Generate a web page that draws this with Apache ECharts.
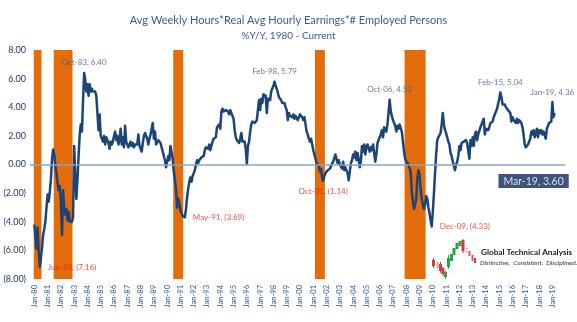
<!DOCTYPE html>
<html>
<head>
<meta charset="utf-8">
<script src="https://cdn.jsdelivr.net/npm/echarts@6/dist/echarts.min.js"></script>
<style>
  html, body { margin: 0; padding: 0; background: #fff; }
  #chart { width: 577px; height: 322px; }
</style>
</head>
<body>
<div id="chart"></div>
<script>
// Avg weekly hours * real avg hourly earnings * employed persons, % y/y, monthly from Jan-80
const FIRST_YEAR = 1980;
const MONTH_NAMES = ['Jan', 'Feb', 'Mar', 'Apr', 'May', 'Jun', 'Jul', 'Aug', 'Sep', 'Oct', 'Nov', 'Dec'];

const yoy1980s = [
  -4.2, -4.3, -5.9, -4.4, -6.1, -7.16, -6.5, -5.8, -4.9, -4.5, -4.0, -3.0,   // 1980
  -2.1, -2.6, -1.9, -1.0, 0.4, 1.05, 0.7, -0.1, -0.6, -1.3, -1.8, -1.5,      // 1981
  -2.6, -4.9, -1.8, -3.0, -3.5, -3.1, -3.9, -3.3, -4.0, -3.9, -4.0, -3.7,    // 1982
  1.3, -0.8, -2.4, -1.0, 0.6, 2.1, 2.8, 2.3, 4.4, 6.40, 5.9, 5.1,            // 1983
  5.6, 4.8, 5.6, 5.1, 5.3, 5.1, 5.0, 5.1, 4.8, 3.6, 2.4, 3.5,                // 1984
  2.0, 2.1, 1.6, 2.0, 1.4, 1.9, 1.8, 1.5, 1.1, 1.6, 1.4, 1.6,                // 1985
  2.0, 2.3, 1.7, 2.0, 1.4, 1.8, 2.5, 1.4, 1.9, 1.2, 2.7, 1.6,                // 1986
  1.5, 1.2, 1.4, 1.6, 1.3, 1.5, 1.2, 1.4, 1.3, 1.4, 2.1, 1.3,                // 1987
  1.1, 0.9, 1.5, 2.0, 2.2, 2.3, 1.8, 1.4, 1.8, 2.1, 2.2, 2.9,                // 1988
  1.8, 2.3, 1.4, 1.5, 1.7, 1.6, 1.5, 1.6, 0.9, 0.6, 0.3, -0.2                // 1989
];
const yoy1990s = [
  -0.3, 0.6, 0.3, 1.3, 1.4, 0.4, -0.5, -1.1, -1.7, -3.0, -2.4, -2.7,         // 1990
  -3.2, -3.4, -3.6, -3.6, -3.69, -3.1, -2.3, -1.7, -1.2, -0.9, -1.2, -0.8,   // 1991
  -0.6, -0.4, 0.0, 0.3, 0.1, 0.3, 0.2, 0.5, 0.4, 0.6, 1.0, 1.2,              // 1992
  1.3, 1.1, 1.4, 1.0, 1.3, 1.6, 1.8, 1.7, 1.9, 2.6, 2.7, 2.8,                // 1993
  2.5, 3.7, 3.9, 3.7, 3.6, 3.8, 3.9, 3.7, 3.5, 3.8, 3.6, 3.4,                // 1994
  3.2, 2.4, 1.9, 1.7, 1.6, 1.5, 1.8, 2.2, 1.6, 1.5, 1.6, 1.1,                // 1995
  0.05, 1.3, 1.6, 2.3, 2.8, 3.0, 2.9, 2.9, 3.0, 3.1, 3.1, 4.5,               // 1996
  3.8, 4.6, 4.3, 4.9, 5.0, 4.8, 3.6, 4.6, 4.7, 4.5, 5.1, 5.2,                // 1997
  5.5, 5.79, 5.5, 5.3, 5.0, 4.7, 4.6, 4.5, 4.3, 4.2, 4.3, 4.0,               // 1998
  3.8, 3.1, 3.6, 3.4, 3.5, 3.3, 3.5, 3.2, 3.4, 3.3, 3.1, 3.0                 // 1999
];
const yoy2000s = [
  3.5, 3.4, 3.3, 3.1, 3.3, 2.8, 2.3, 2.1, 1.8, 1.6, 1.8, 1.4,                // 2000
  1.0, 0.7, 0.4, 0.1, 0.0, -0.1, -0.5, -0.3, -0.9, -1.14, -0.8, -0.6,        // 2001
  -0.7, -0.4, -0.5, -0.3, -0.1, 0.0, 0.2, 0.3, 0.7, 0.6, 0.1, 0.3,           // 2002
  0.0, 0.1, -0.3, 0.2, -0.4, -0.2, -0.3, -0.6, -1.1, -0.5, 0.1, 0.3,         // 2003
  0.7, 0.5, 0.9, 0.3, 0.8, 0.4, -0.2, 0.2, 1.3, 0.9, 1.4, 0.7,               // 2004
  1.2, 1.4, 1.3, 0.9, 1.2, 1.0, 1.4, 0.8, 0.2, 0.7, 1.5, 1.7,                // 2005
  1.6, 2.1, 2.4, 1.9, 2.6, 2.5, 2.3, 2.8, 3.6, 4.53, 3.7, 3.4,               // 2006
  3.1, 2.9, 2.7, 2.3, 2.7, 2.5, 2.8, 2.9, 2.3, 1.6, 0.9, 0.4,                // 2007
  0.2, 0.1, 0.0, -0.1, -0.5, -1.9, -2.6, -3.1, -2.8, -2.4, -1.0, -0.4,       // 2008
  -0.7, -1.7, -2.4, -2.8, -3.1, -2.8, -2.2, -2.4, -3.0, -3.4, -3.9, -4.33    // 2009
];
const yoy2010s = [
  -3.3, -2.0, -0.6, 0.7, 1.7, 1.9, 2.0, 2.2, 2.8, 3.6, 2.8, 2.4,             // 2010
  2.2, 2.3, 1.6, 1.4, 0.8, 0.6, 0.2, 0.1, -0.4, 0.0, 0.2, 0.6,               // 2011
  1.3, 1.0, 1.5, 1.4, 1.6, 1.5, 1.7, 1.5, 1.6, 0.4, 1.7, 1.3,                // 2012
  1.9, 1.3, 2.1, 2.3, 1.7, 2.1, 2.2, 2.6, 2.7, 3.0, 3.2, 2.1,                // 2013
  2.5, 2.6, 2.4, 2.6, 2.9, 2.8, 3.0, 3.3, 3.2, 3.7, 3.9, 4.0,                // 2014
  4.6, 5.04, 4.7, 4.2, 4.1, 4.2, 4.0, 4.1, 3.8, 3.7, 3.6, 3.0,               // 2015
  3.3, 3.1, 3.2, 2.9, 3.2, 2.9, 3.1, 3.0, 2.9, 2.6, 2.1, 1.4,                // 2016
  1.2, 1.1, 1.4, 1.6, 1.8, 2.3, 2.1, 2.4, 1.9, 2.2, 2.5, 1.9,                // 2017
  2.4, 2.2, 2.4, 2.1, 2.3, 2.2, 1.8, 2.5, 2.6, 2.9, 2.8, 3.0,                // 2018
  4.36, 3.3, 3.60                                                            // 2019
];

// Recession periods (first and last month)
const recessions = [
  ['Jan-80', 'Jul-80'],
  ['Jul-81', 'Nov-82'],
  ['Jul-90', 'Mar-91'],
  ['Mar-01', 'Nov-01'],
  ['Dec-07', 'Jun-09']
];
// Annotated turning points
const peakMonths = ['Oct-83', 'Feb-98', 'Oct-06', 'Feb-15', 'Jan-19'];
const troughMonths = ['Jun-80', 'May-91', 'Dec-09'];
const troughBelowMonths = ['Oct-01'];
const latestMonth = 'Mar-19';
const yTicks = [-8, -6, -4, -2, 0, 2, 4, 6, 8];

const values = [].concat(yoy1980s, yoy1990s, yoy2000s, yoy2010s);
const months = values.map(function (_, i) {
  const yy = (FIRST_YEAR + Math.floor(i / 12)) % 100;
  return MONTH_NAMES[i % 12] + '-' + String(yy).padStart(2, '0');
});
const idx = function (m) { return months.indexOf(m); };
const yearStarts = months.map(function (m, i) { return i; }).filter(function (i) { return i % 12 === 0; });

const fmtNum = function (v) {
  const s = Math.abs(v).toFixed(2);
  return v < 0 ? '(' + s + ')' : s;
};

const FONT = 'Lato';
const LABEL_BLUE = '#3f5b8b';
const LABEL_RED = '#ee1c1c';

function note(m, label) {
  const i = idx(m);
  return { value: [i, values[i]], name: m, label: label };
}

const notes = []
  .concat(peakMonths.map(function (m) {
    return note(m, { position: 'top', distance: 6, color: LABEL_BLUE });
  }))
  .concat(troughMonths.map(function (m) {
    return note(m, { position: 'right', distance: 8, color: LABEL_RED });
  }))
  .concat(troughBelowMonths.map(function (m) {
    return note(m, { position: 'bottom', distance: 7, color: LABEL_RED });
  }))
  .concat([note(latestMonth, {
    position: 'bottom', distance: 61, offset: [-21, 0],
    color: '#ffffff', backgroundColor: '#0c2a5b',
    fontSize: 10.5, padding: [2, 5, 1, 5]
  })]);

const chart = echarts.init(document.getElementById('chart'), null, { renderer: 'canvas' });

chart.setOption({
  animation: false,
  backgroundColor: '#ffffff',
  title: {
    text: 'Avg Weekly Hours*Real Avg Hourly Earnings*# Employed Persons',
    subtext: '%Y/Y, 1980 - Current',
    left: 'center',
    top: 10,
    itemGap: 5,
    textStyle: { fontFamily: FONT, fontSize: 11, fontWeight: 'normal', color: '#3e5b8c' },
    subtextStyle: { fontFamily: FONT, fontSize: 10, color: '#3e5b8c' }
  },
  grid: { left: 30, right: 12, top: 50, bottom: 43 },
  xAxis: {
    type: 'value',
    min: -3.9,
    max: 479.4,
    splitLine: { show: false },
    axisLine: { show: false },
    axisTick: { show: false },
    axisLabel: {
      customValues: yearStarts,
      rotate: 90,
      margin: 6,
      fontFamily: FONT,
      fontSize: 7.5,
      color: '#2f5597',
      formatter: function (v) { return months[Math.round(v)] || ''; }
    }
  },
  yAxis: {
    type: 'value',
    min: yTicks[0],
    max: yTicks[yTicks.length - 1],
    interval: 2,
    splitLine: { show: false },
    axisLine: { show: false },
    axisTick: { show: false },
    axisLabel: {
      margin: 4,
      fontFamily: FONT,
      fontSize: 9,
      color: '#1f3864',
      formatter: fmtNum
    }
  },
  series: [
    {
      // recession shading
      type: 'line',
      data: [],
      z: 1,
      silent: true,
      markArea: {
        silent: true,
        itemStyle: { color: '#e46c0a', opacity: 1 },
        data: recessions.map(function (r) {
          return [{ xAxis: idx(r[0]) - 0.5 }, { xAxis: idx(r[1]) + 0.5 }];
        })
      }
    },
    {
      // zero reference line
      type: 'line',
      data: [],
      z: 2,
      silent: true,
      markLine: {
        silent: true,
        symbol: 'none',
        label: { show: false },
        lineStyle: { color: '#8ea3c2', width: 1.5, type: 'solid' },
        data: [{ yAxis: 0 }]
      }
    },
    {
      name: '% Y/Y',
      type: 'line',
      z: 3,
      data: values.map(function (v, i) { return [i, v]; }),
      showSymbol: false,
      lineStyle: { color: '#1d4477', width: 2.5, join: 'round' },
      itemStyle: { color: '#1d4477' }
    },
    {
      type: 'scatter',
      z: 4,
      symbolSize: 0,
      silent: true,
      data: notes,
      label: {
        show: true,
        fontFamily: FONT,
        fontSize: 8,
        formatter: function (p) { return p.name + ', ' + fmtNum(p.value[1]); }
      }
    }
  ],
  graphic: [
    {
      type: 'group',
      left: 432,
      top: 239,
      children: [
        // candlestick logo mark
        { type: 'rect', shape: { x: 1.5, y: 19, width: 1, height: 10 }, style: { fill: '#d9363e' } },
        { type: 'rect', shape: { x: 0.5, y: 21, width: 3, height: 6 }, style: { fill: '#d9363e' } },
        { type: 'rect', shape: { x: 5, y: 23, width: 2, height: 6 }, style: { fill: '#7fc47f' } },
        { type: 'rect', shape: { x: 8.5, y: 23, width: 1, height: 11 }, style: { fill: '#d9363e' } },
        { type: 'rect', shape: { x: 7.5, y: 25, width: 3, height: 7 }, style: { fill: '#d9363e' } },
        { type: 'rect', shape: { x: 11, y: 28, width: 1, height: 9 }, style: { fill: '#d9363e' } },
        { type: 'rect', shape: { x: 10, y: 29, width: 3, height: 6 }, style: { fill: '#d9363e' } },
        { type: 'rect', shape: { x: 13.5, y: 32, width: 1, height: 8 }, style: { fill: '#2aa745' } },
        { type: 'rect', shape: { x: 12.5, y: 33, width: 3, height: 5 }, style: { fill: '#2aa745' } },
        { type: 'rect', shape: { x: 15.5, y: 19, width: 3, height: 9 }, style: { fill: '#2aa745' } },
        { type: 'rect', shape: { x: 16.5, y: 16, width: 1, height: 14 }, style: { fill: '#2aa745' } },
        { type: 'rect', shape: { x: 18.5, y: 15, width: 3, height: 7 }, style: { fill: '#2aa745' } },
        { type: 'rect', shape: { x: 21, y: 9, width: 3, height: 7 }, style: { fill: '#2aa745' } },
        { type: 'rect', shape: { x: 24, y: 4, width: 3, height: 6 }, style: { fill: '#2aa745' } },
        { type: 'rect', shape: { x: 27, y: 2, width: 3, height: 5 }, style: { fill: '#2aa745' } },
        { type: 'rect', shape: { x: 31, y: 0, width: 1, height: 14 }, style: { fill: '#d9363e' } },
        { type: 'rect', shape: { x: 30, y: 1, width: 3, height: 11 }, style: { fill: '#d9363e' } },
        { type: 'rect', shape: { x: 34, y: 9, width: 2, height: 1.5 }, style: { fill: '#f08a8e' } },
        { type: 'rect', shape: { x: 34, y: 12, width: 2, height: 1.5 }, style: { fill: '#f08a8e' } },
        { type: 'rect', shape: { x: 37, y: 12, width: 2, height: 5 }, style: { fill: '#e0565c' } },
        { type: 'rect', shape: { x: 40, y: 16, width: 2, height: 6 }, style: { fill: '#e0565c' } },
        { type: 'rect', shape: { x: 42.5, y: 19, width: 2, height: 5 }, style: { fill: '#d9363e' } }
      ]
    },
    {
      type: 'text',
      left: 481,
      top: 248,
      style: {
        text: 'Global Technical Analysis',
        fontFamily: FONT,
        fontSize: 8.2,
        fontWeight: 'bold',
        fill: '#1b1b1b'
      }
    },
    {
      type: 'text',
      left: 480,
      top: 259,
      style: {
        text: 'Distinctive.  Consistent.  Disciplined.',
        fontFamily: FONT,
        fontSize: 6.5,
        fontStyle: 'italic',
        fill: '#333333'
      }
    }
  ]
});
</script>
</body>
</html>
